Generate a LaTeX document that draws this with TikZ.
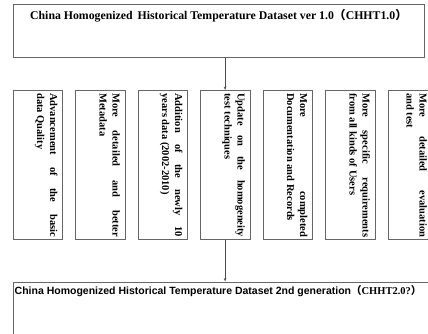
\documentclass[tikz,border=0pt]{standalone}
\usepackage{fontspec}
\setmainfont{Liberation Serif}
\setsansfont{Liberation Sans}
\newfontfamily\cjk{Noto Sans CJK SC}
\usetikzlibrary{arrows.meta}

\tikzset{
  frame/.style={draw=black!60, line width=0.7pt, inner sep=0pt, anchor=north west},
  vbox/.style={frame, minimum width=49.5pt, minimum height=149pt},
  vtext/.style={rotate=-90, anchor=north west, inner sep=0pt, text width=144pt,
    align=justify, font=\bfseries\fontsize{10.5}{13}\selectfont},
  arr/.style={draw=black!70, line width=0.6pt, -{Stealth[length=3.5pt,width=2.6pt]}}
}
\newcommand{\jline}[1]{\makebox[144pt][s]{#1}}

\begin{document}
\begin{tikzpicture}[x=1pt,y=-1pt]
    \useasboundingbox (0,0) rectangle (428,333);
    % first generation
    \node[frame, minimum width=411.5pt, minimum height=53pt] (chht1) at (12.5,4) {};
    \node[anchor=north, inner sep=0pt, font=\bfseries\fontsize{11.8}{13}\selectfont]
      (title1) at ([yshift=-5pt]chht1.north)
      {China Homogenized\, Historical Temperature Dataset ver 1.0{\cjk （}CHHT1.0{\cjk ）}};

    % the seven improvements
    \node[vbox] (quality) at (12.5,90) {};
    \node[vbox] (meta)    at (75,90) {};
    \node[vbox] (newdata) at (137.5,90) {};
    \node[vbox] (homtest) at (200,90) {};
    \node[vbox] (docs)    at (262.5,90) {};
    \node[vbox] (users)   at (325,90) {};
    \node[vbox, minimum width=60pt] (evaltest) at (387.5,90) {};

    \node[vtext] (tquality) at ([xshift=-5pt,yshift=-3pt]quality.north east)
      {\jline{Advancement of the basic}\\data Quality};
    \node[vtext] (tmeta) at ([xshift=-5pt,yshift=-3pt]meta.north east)
      {\jline{More detailed and better}\\Metadata};
    \node[vtext] (tnewdata) at ([xshift=-5pt,yshift=-3pt]newdata.north east)
      {\jline{Addition of the newly 10}\\years data (2002-2010)};
    \node[vtext] (thomtest) at ([xshift=-5pt,yshift=-3pt]homtest.north east)
      {\jline{Update on the homogeneity}\\test techniques};
    \node[vtext] (tdocs) at ([xshift=-5pt,yshift=-3pt]docs.north east)
      {\jline{More completed}\\Documentation and Records};
    \node[vtext] (tusers) at ([xshift=-5pt,yshift=-3pt]users.north east)
      {\jline{More specific requirements}\\from all kinds of Users};
    \node[vtext] (tevaltest) at ([xshift=39.5pt,yshift=-3pt]evaltest.north west)
      {\jline{More detailed evaluation}\\and test};

    % second generation
    \node[frame, minimum width=430pt, minimum height=60pt] (chht2) at (12.5,281.5) {};
    \node[anchor=north west, inner sep=0pt, font=\sffamily\bfseries\fontsize{10.5}{12}\selectfont]
      (title2) at ([xshift=2pt,yshift=-4pt]chht2.north west)
      {China Homogenized Historical Temperature Dataset 2nd generation{\cjk （}{\rmfamily CHHT2.0?}{\cjk ）}};

    \draw[arr] (chht1.south -| homtest.north) -- (homtest.north);
    \draw[arr] (homtest.south) -- (homtest.south |- chht2.north);
\end{tikzpicture}
\end{document}
